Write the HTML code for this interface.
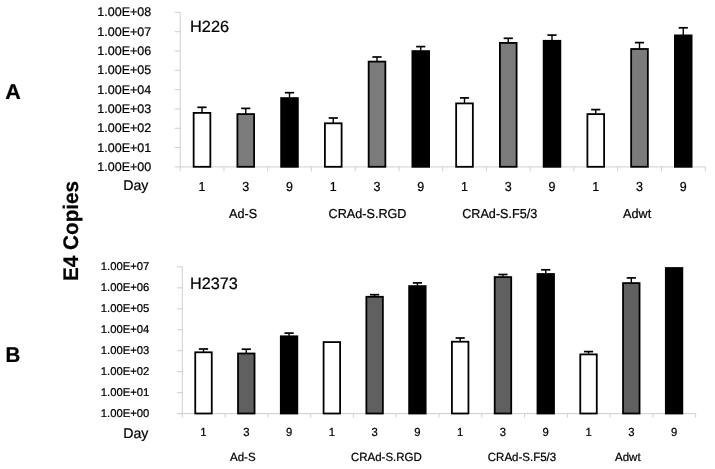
<!DOCTYPE html>
<html><head><meta charset="utf-8"><style>
html,body{margin:0;padding:0;background:#fff;}
body{width:715px;height:469px;overflow:hidden;}
svg{display:block;filter:grayscale(1);}
text{font-family:"Liberation Sans", sans-serif;fill:#000;stroke:#000;stroke-width:0.22px;text-rendering:geometricPrecision;}
</style></head><body>
<svg width="715" height="469" viewBox="0 0 715 469">
<rect width="715" height="469" fill="#fff"/>
<rect x="179.7" y="11.84" width="1" height="159.56" fill="#cfcfcf"/>
<rect x="179.7" y="166.4" width="525.5" height="1" fill="#cfcfcf"/>
<rect x="174.7" y="166.4" width="5.5" height="1" fill="#cfcfcf"/>
<text transform="translate(151.2,171.03) scale(1,1)" font-size="12.5" text-anchor="end">1.00E+00</text>
<rect x="174.7" y="147.08" width="5.5" height="1" fill="#cfcfcf"/>
<text transform="translate(151.2,151.71) scale(1,1)" font-size="12.5" text-anchor="end">1.00E+01</text>
<rect x="174.7" y="127.76" width="5.5" height="1" fill="#cfcfcf"/>
<text transform="translate(151.2,132.38) scale(1,1)" font-size="12.5" text-anchor="end">1.00E+02</text>
<rect x="174.7" y="108.44" width="5.5" height="1" fill="#cfcfcf"/>
<text transform="translate(151.2,113.06) scale(1,1)" font-size="12.5" text-anchor="end">1.00E+03</text>
<rect x="174.7" y="89.12" width="5.5" height="1" fill="#cfcfcf"/>
<text transform="translate(151.2,93.75) scale(1,1)" font-size="12.5" text-anchor="end">1.00E+04</text>
<rect x="174.7" y="69.8" width="5.5" height="1" fill="#cfcfcf"/>
<text transform="translate(151.2,74.43) scale(1,1)" font-size="12.5" text-anchor="end">1.00E+05</text>
<rect x="174.7" y="50.48" width="5.5" height="1" fill="#cfcfcf"/>
<text transform="translate(151.2,55.11) scale(1,1)" font-size="12.5" text-anchor="end">1.00E+06</text>
<rect x="174.7" y="31.16" width="5.5" height="1" fill="#cfcfcf"/>
<text transform="translate(151.2,35.78) scale(1,1)" font-size="12.5" text-anchor="end">1.00E+07</text>
<rect x="174.7" y="11.84" width="5.5" height="1" fill="#cfcfcf"/>
<text transform="translate(151.2,16.47) scale(1,1)" font-size="12.5" text-anchor="end">1.00E+08</text>
<rect x="223.45" y="166.9" width="1" height="4.5" fill="#cfcfcf"/>
<rect x="267.2" y="166.9" width="1" height="4.5" fill="#cfcfcf"/>
<rect x="310.95" y="166.9" width="1" height="4.5" fill="#cfcfcf"/>
<rect x="354.7" y="166.9" width="1" height="4.5" fill="#cfcfcf"/>
<rect x="398.45" y="166.9" width="1" height="4.5" fill="#cfcfcf"/>
<rect x="442.2" y="166.9" width="1" height="4.5" fill="#cfcfcf"/>
<rect x="485.95" y="166.9" width="1" height="4.5" fill="#cfcfcf"/>
<rect x="529.7" y="166.9" width="1" height="4.5" fill="#cfcfcf"/>
<rect x="573.45" y="166.9" width="1" height="4.5" fill="#cfcfcf"/>
<rect x="617.2" y="166.9" width="1" height="4.5" fill="#cfcfcf"/>
<rect x="660.95" y="166.9" width="1" height="4.5" fill="#cfcfcf"/>
<rect x="704.7" y="166.9" width="1" height="4.5" fill="#cfcfcf"/>
<rect x="192.75" y="112" width="18.5" height="55.7" fill="#000"/>
<rect x="194.55" y="113.8" width="14.9" height="52.1" fill="#ffffff"/>
<rect x="201.3" y="107.3" width="1.4" height="5.2" fill="#000"/>
<rect x="197.4" y="106.45" width="9.2" height="1.7" fill="#000"/>
<text transform="translate(202,190.6) scale(1,1.04)" font-size="12.5" text-anchor="middle">1</text>
<rect x="236.5" y="113.2" width="18.5" height="54.5" fill="#000"/>
<rect x="238.3" y="115" width="14.9" height="50.9" fill="#7b7b7b"/>
<rect x="245.05" y="108.4" width="1.4" height="5.3" fill="#000"/>
<rect x="241.15" y="107.55" width="9.2" height="1.7" fill="#000"/>
<text transform="translate(245.75,190.6) scale(1,1.04)" font-size="12.5" text-anchor="middle">3</text>
<rect x="280.25" y="97.2" width="18.5" height="70.5" fill="#000"/>
<rect x="288.8" y="92.7" width="1.4" height="5" fill="#000"/>
<rect x="284.9" y="91.85" width="9.2" height="1.7" fill="#000"/>
<text transform="translate(289.5,190.6) scale(1,1.04)" font-size="12.5" text-anchor="middle">9</text>
<rect x="324" y="122.4" width="18.5" height="45.3" fill="#000"/>
<rect x="325.8" y="124.2" width="14.9" height="41.7" fill="#ffffff"/>
<rect x="332.55" y="118" width="1.4" height="4.9" fill="#000"/>
<rect x="328.65" y="117.15" width="9.2" height="1.7" fill="#000"/>
<text transform="translate(333.25,190.6) scale(1,1.04)" font-size="12.5" text-anchor="middle">1</text>
<rect x="367.75" y="60.7" width="18.5" height="107" fill="#000"/>
<rect x="369.55" y="62.5" width="14.9" height="103.4" fill="#7b7b7b"/>
<rect x="376.3" y="57" width="1.4" height="4.2" fill="#000"/>
<rect x="372.4" y="56.15" width="9.2" height="1.7" fill="#000"/>
<text transform="translate(377,190.6) scale(1,1.04)" font-size="12.5" text-anchor="middle">3</text>
<rect x="411.5" y="50.2" width="18.5" height="117.5" fill="#000"/>
<rect x="420.05" y="46.6" width="1.4" height="4.1" fill="#000"/>
<rect x="416.15" y="45.75" width="9.2" height="1.7" fill="#000"/>
<text transform="translate(420.75,190.6) scale(1,1.04)" font-size="12.5" text-anchor="middle">9</text>
<rect x="455.25" y="102.5" width="18.5" height="65.2" fill="#000"/>
<rect x="457.05" y="104.3" width="14.9" height="61.6" fill="#ffffff"/>
<rect x="463.8" y="97.9" width="1.4" height="5.1" fill="#000"/>
<rect x="459.9" y="97.05" width="9.2" height="1.7" fill="#000"/>
<text transform="translate(464.5,190.6) scale(1,1.04)" font-size="12.5" text-anchor="middle">1</text>
<rect x="499" y="42" width="18.5" height="125.7" fill="#000"/>
<rect x="500.8" y="43.8" width="14.9" height="122.1" fill="#7b7b7b"/>
<rect x="507.55" y="38.3" width="1.4" height="4.2" fill="#000"/>
<rect x="503.65" y="37.45" width="9.2" height="1.7" fill="#000"/>
<text transform="translate(508.25,190.6) scale(1,1.04)" font-size="12.5" text-anchor="middle">3</text>
<rect x="542.75" y="39.9" width="18.5" height="127.8" fill="#000"/>
<rect x="551.3" y="35.1" width="1.4" height="5.3" fill="#000"/>
<rect x="547.4" y="34.25" width="9.2" height="1.7" fill="#000"/>
<text transform="translate(552,190.6) scale(1,1.04)" font-size="12.5" text-anchor="middle">9</text>
<rect x="586.5" y="113.2" width="18.5" height="54.5" fill="#000"/>
<rect x="588.3" y="115" width="14.9" height="50.9" fill="#ffffff"/>
<rect x="595.05" y="109.6" width="1.4" height="4.1" fill="#000"/>
<rect x="591.15" y="108.75" width="9.2" height="1.7" fill="#000"/>
<text transform="translate(595.75,190.6) scale(1,1.04)" font-size="12.5" text-anchor="middle">1</text>
<rect x="630.25" y="48.1" width="18.5" height="119.6" fill="#000"/>
<rect x="632.05" y="49.9" width="14.9" height="116" fill="#7b7b7b"/>
<rect x="638.8" y="42.6" width="1.4" height="6" fill="#000"/>
<rect x="634.9" y="41.75" width="9.2" height="1.7" fill="#000"/>
<text transform="translate(639.5,190.6) scale(1,1.04)" font-size="12.5" text-anchor="middle">3</text>
<rect x="674" y="34.5" width="18.5" height="133.2" fill="#000"/>
<rect x="682.55" y="27.8" width="1.4" height="7.2" fill="#000"/>
<rect x="678.65" y="26.95" width="9.2" height="1.7" fill="#000"/>
<text transform="translate(683.25,190.6) scale(1,1.04)" font-size="12.5" text-anchor="middle">9</text>
<text transform="translate(148.4,189.7) scale(1.05,1.04)" font-size="13.5" text-anchor="end">Day</text>
<text transform="translate(229,218) scale(1.01,1.04)" font-size="12.5">Ad-S</text>
<text transform="translate(328.6,218) scale(1.01,1.04)" font-size="12.5">CRAd-S.RGD</text>
<text transform="translate(462.2,218) scale(1.01,1.04)" font-size="12.5">CRAd-S.F5/3</text>
<text transform="translate(623.1,218) scale(1.01,1.04)" font-size="12.5">Adwt</text>
<text transform="translate(190,32.3) scale(1.05,1.04)" font-size="15.6">H226</text>
<rect x="181.8" y="266.38" width="1" height="151.22" fill="#cfcfcf"/>
<rect x="181.8" y="413.1" width="513.8" height="1" fill="#cfcfcf"/>
<rect x="177" y="413.1" width="5.3" height="1" fill="#cfcfcf"/>
<text transform="translate(149.4,416.85) scale(1,1)" font-size="11.3" text-anchor="end">1.00E+00</text>
<rect x="177" y="392.14" width="5.3" height="1" fill="#cfcfcf"/>
<text transform="translate(149.4,395.89) scale(1,1)" font-size="11.3" text-anchor="end">1.00E+01</text>
<rect x="177" y="371.18" width="5.3" height="1" fill="#cfcfcf"/>
<text transform="translate(149.4,374.93) scale(1,1)" font-size="11.3" text-anchor="end">1.00E+02</text>
<rect x="177" y="350.22" width="5.3" height="1" fill="#cfcfcf"/>
<text transform="translate(149.4,353.97) scale(1,1)" font-size="11.3" text-anchor="end">1.00E+03</text>
<rect x="177" y="329.26" width="5.3" height="1" fill="#cfcfcf"/>
<text transform="translate(149.4,333.01) scale(1,1)" font-size="11.3" text-anchor="end">1.00E+04</text>
<rect x="177" y="308.3" width="5.3" height="1" fill="#cfcfcf"/>
<text transform="translate(149.4,312.05) scale(1,1)" font-size="11.3" text-anchor="end">1.00E+05</text>
<rect x="177" y="287.34" width="5.3" height="1" fill="#cfcfcf"/>
<text transform="translate(149.4,291.09) scale(1,1)" font-size="11.3" text-anchor="end">1.00E+06</text>
<rect x="177" y="266.38" width="5.3" height="1" fill="#cfcfcf"/>
<text transform="translate(149.4,270.13) scale(1,1)" font-size="11.3" text-anchor="end">1.00E+07</text>
<rect x="224.58" y="413.6" width="1" height="4" fill="#cfcfcf"/>
<rect x="267.36" y="413.6" width="1" height="4" fill="#cfcfcf"/>
<rect x="310.14" y="413.6" width="1" height="4" fill="#cfcfcf"/>
<rect x="352.92" y="413.6" width="1" height="4" fill="#cfcfcf"/>
<rect x="395.7" y="413.6" width="1" height="4" fill="#cfcfcf"/>
<rect x="438.48" y="413.6" width="1" height="4" fill="#cfcfcf"/>
<rect x="481.26" y="413.6" width="1" height="4" fill="#cfcfcf"/>
<rect x="524.04" y="413.6" width="1" height="4" fill="#cfcfcf"/>
<rect x="566.82" y="413.6" width="1" height="4" fill="#cfcfcf"/>
<rect x="609.6" y="413.6" width="1" height="4" fill="#cfcfcf"/>
<rect x="652.38" y="413.6" width="1" height="4" fill="#cfcfcf"/>
<rect x="695.16" y="413.6" width="1" height="4" fill="#cfcfcf"/>
<rect x="194.35" y="351.4" width="18.3" height="63" fill="#000"/>
<rect x="196.15" y="353.2" width="14.7" height="59.4" fill="#ffffff"/>
<rect x="202.8" y="349" width="1.4" height="2.9" fill="#000"/>
<rect x="198.9" y="348.15" width="9.2" height="1.7" fill="#000"/>
<text transform="translate(203.5,435.6) scale(1,1.04)" font-size="11.3" text-anchor="middle">1</text>
<rect x="237.13" y="352.6" width="18.3" height="61.8" fill="#000"/>
<rect x="238.93" y="354.4" width="14.7" height="58.2" fill="#606060"/>
<rect x="245.58" y="349.2" width="1.4" height="3.9" fill="#000"/>
<rect x="241.68" y="348.35" width="9.2" height="1.7" fill="#000"/>
<text transform="translate(246.28,435.6) scale(1,1.04)" font-size="11.3" text-anchor="middle">3</text>
<rect x="279.91" y="335.4" width="18.3" height="79" fill="#000"/>
<rect x="288.36" y="333.1" width="1.4" height="2.8" fill="#000"/>
<rect x="284.46" y="332.25" width="9.2" height="1.7" fill="#000"/>
<text transform="translate(289.06,435.6) scale(1,1.04)" font-size="11.3" text-anchor="middle">9</text>
<rect x="322.69" y="341.2" width="18.3" height="73.2" fill="#000"/>
<rect x="324.49" y="343" width="14.7" height="69.6" fill="#ffffff"/>
<text transform="translate(331.84,435.6) scale(1,1.04)" font-size="11.3" text-anchor="middle">1</text>
<rect x="365.47" y="295.9" width="18.3" height="118.5" fill="#000"/>
<rect x="367.27" y="297.7" width="14.7" height="114.9" fill="#606060"/>
<rect x="373.92" y="294.7" width="1.4" height="1.7" fill="#000"/>
<rect x="370.02" y="293.85" width="9.2" height="1.7" fill="#000"/>
<text transform="translate(374.62,435.6) scale(1,1.04)" font-size="11.3" text-anchor="middle">3</text>
<rect x="408.25" y="285.2" width="18.3" height="129.2" fill="#000"/>
<rect x="416.7" y="282.9" width="1.4" height="2.8" fill="#000"/>
<rect x="412.8" y="282.05" width="9.2" height="1.7" fill="#000"/>
<text transform="translate(417.4,435.6) scale(1,1.04)" font-size="11.3" text-anchor="middle">9</text>
<rect x="451.03" y="340.8" width="18.3" height="73.6" fill="#000"/>
<rect x="452.83" y="342.6" width="14.7" height="70" fill="#ffffff"/>
<rect x="459.48" y="338" width="1.4" height="3.3" fill="#000"/>
<rect x="455.58" y="337.15" width="9.2" height="1.7" fill="#000"/>
<text transform="translate(460.18,435.6) scale(1,1.04)" font-size="11.3" text-anchor="middle">1</text>
<rect x="493.81" y="276.2" width="18.3" height="138.2" fill="#000"/>
<rect x="495.61" y="278" width="14.7" height="134.6" fill="#606060"/>
<rect x="502.26" y="274.5" width="1.4" height="2.2" fill="#000"/>
<rect x="498.36" y="273.65" width="9.2" height="1.7" fill="#000"/>
<text transform="translate(502.96,435.6) scale(1,1.04)" font-size="11.3" text-anchor="middle">3</text>
<rect x="536.59" y="273.1" width="18.3" height="141.3" fill="#000"/>
<rect x="545.04" y="269.8" width="1.4" height="3.8" fill="#000"/>
<rect x="541.14" y="268.95" width="9.2" height="1.7" fill="#000"/>
<text transform="translate(545.74,435.6) scale(1,1.04)" font-size="11.3" text-anchor="middle">9</text>
<rect x="579.37" y="353.5" width="18.3" height="60.9" fill="#000"/>
<rect x="581.17" y="355.3" width="14.7" height="57.3" fill="#ffffff"/>
<rect x="587.82" y="351.6" width="1.4" height="2.4" fill="#000"/>
<rect x="583.92" y="350.75" width="9.2" height="1.7" fill="#000"/>
<text transform="translate(588.52,435.6) scale(1,1.04)" font-size="11.3" text-anchor="middle">1</text>
<rect x="622.15" y="282.2" width="18.3" height="132.2" fill="#000"/>
<rect x="623.95" y="284" width="14.7" height="128.6" fill="#606060"/>
<rect x="630.6" y="277.9" width="1.4" height="4.8" fill="#000"/>
<rect x="626.7" y="277.05" width="9.2" height="1.7" fill="#000"/>
<text transform="translate(631.3,435.6) scale(1,1.04)" font-size="11.3" text-anchor="middle">3</text>
<rect x="664.93" y="267.1" width="18.3" height="147.3" fill="#000"/>
<text transform="translate(674.08,435.6) scale(1,1.04)" font-size="11.3" text-anchor="middle">9</text>
<text transform="translate(148.4,437.5) scale(1.05,1.04)" font-size="13.5" text-anchor="end">Day</text>
<text transform="translate(230,461.4) scale(1.01,1.04)" font-size="11.4">Ad-S</text>
<text transform="translate(350.9,461.4) scale(1.01,1.04)" font-size="11.4">CRAd-S.RGD</text>
<text transform="translate(487.8,461.4) scale(1.01,1.04)" font-size="11.4">CRAd-S.F5/3</text>
<text transform="translate(615,461.4) scale(1.01,1.04)" font-size="11.4">Adwt</text>
<text transform="translate(190,288.8) scale(1.02,1.04)" font-size="15.9">H2373</text>
<text transform="translate(5.3,99.4) scale(1.05,1.04)" font-size="20.5" font-weight="bold">A</text>
<text transform="translate(5.6,362.4) scale(1,1.04)" font-size="20.5" font-weight="bold">B</text>
<text transform="translate(77.9,281) rotate(-90) scale(1.02,1.04)" font-size="20.3" font-weight="bold">E4 Copies</text>
</svg>
</body></html>
